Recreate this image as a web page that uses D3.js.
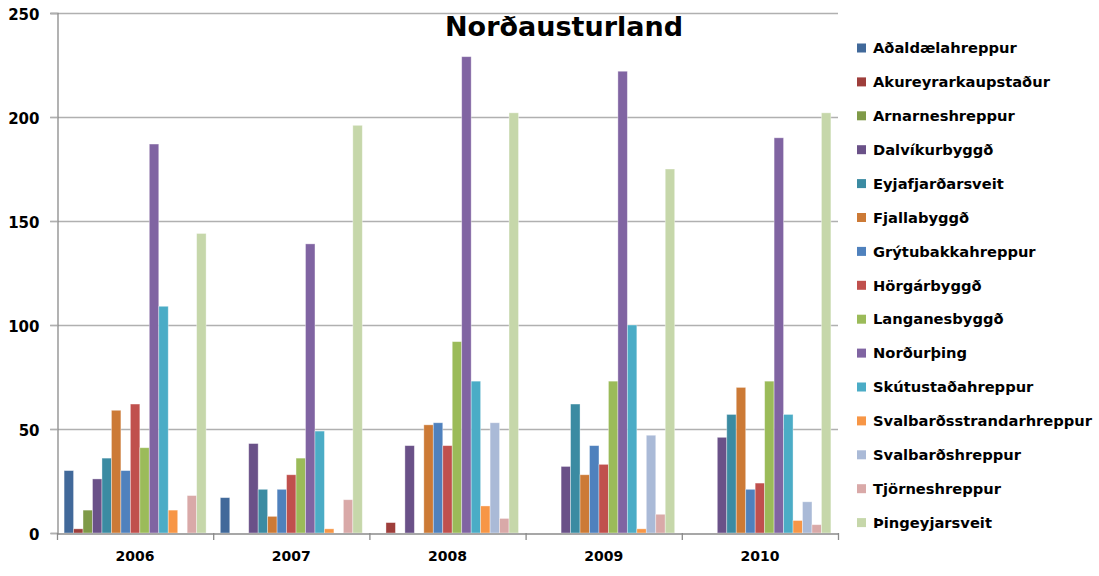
<!DOCTYPE html>
<html>
<head>
<meta charset="utf-8">
<script src="https://cdn.jsdelivr.net/npm/d3@7"></script>
<style>
  body { margin: 0; background: #fff; }
  svg { display: block; }
</style>
</head>
<body>
<svg id="chart" width="1099" height="576"></svg>
<script>
// data
var years = ["2006", "2007", "2008", "2009", "2010"];
var series = [
  "Aðaldælahreppur", "Akureyrarkaupstaður", "Arnarneshreppur", "Dalvíkurbyggð",
  "Eyjafjarðarsveit", "Fjallabyggð", "Grýtubakkahreppur", "Hörgárbyggð",
  "Langanesbyggð", "Norðurþing", "Skútustaðahreppur", "Svalbarðsstrandarhreppur",
  "Svalbarðshreppur", "Tjörneshreppur", "Þingeyjarsveit"
];
// one array per year, same order as series
var v2006 = [30, 2, 11, 26, 36, 59, 30, 62, 41, 187, 109, 11, 0, 18, 144];
var v2007 = [17, 0, 0, 43, 21, 8, 21, 28, 36, 139, 49, 2, 0, 16, 196];
var v2008 = [0, 5, 0, 42, 0, 52, 53, 42, 92, 229, 73, 13, 53, 7, 202];
var v2009 = [0, 0, 0, 32, 62, 28, 42, 33, 73, 222, 100, 2, 47, 9, 175];
var v2010 = [0, 0, 0, 46, 57, 70, 21, 24, 73, 190, 57, 6, 15, 4, 202];
var yTicks = [0, 50, 100, 150, 200, 250];

var colors = [
  "#41699A", "#9E3E3B", "#7F9A48", "#6A5188", "#3B8BA2",
  "#CC7A36", "#4F81BD", "#C0504D", "#9BBB59", "#8064A2",
  "#4BACC6", "#F79646", "#AABAD7", "#D9A9A8", "#C6D7AA"
];

var values = [v2006, v2007, v2008, v2009, v2010];
var data = years.map(function(y, i) {
  return { year: y, vals: series.map(function(s, j) { return { key: s, value: values[i][j] }; }) };
});

var svg = d3.select("#chart");
var margin = { top: 13, left: 57, bottom: 43, right: 261 };
var width = +svg.attr("width"),
  height = +svg.attr("height");

var x0 = d3.scaleBand().domain(years).range([margin.left, width - margin.right]).padding(0);
var x1 = d3.scaleBand().domain(series).range([0, x0.bandwidth()]).paddingInner(0).paddingOuter(0.75);
var y = d3.scaleLinear().domain([0, 250]).range([height - margin.bottom, margin.top]);
var color = d3.scaleOrdinal().domain(series).range(colors);

var gridColor = "#b0b0b0";
var axisColor = "#8a8a8a";

// gridlines
svg.append("g")
  .selectAll("line")
  .data(yTicks.slice(1))
  .enter()
  .append("line")
  .attr("x1", margin.left - 7)
  .attr("x2", width - margin.right)
  .attr("y1", d => y(d) + 0.5)
  .attr("y2", d => y(d) + 0.5)
  .attr("stroke", gridColor)
  .attr("stroke-width", 1.3);

// y axis
var yAxis = svg.append("g")
  .attr("transform", `translate(${margin.left + 0.5},0)`)
  .call(d3.axisLeft(y).tickValues(yTicks).tickSize(7).tickPadding(11));
yAxis.select(".domain").attr("stroke", axisColor).attr("stroke-width", 1.3);
yAxis.selectAll(".tick line").attr("stroke", gridColor).attr("stroke-width", 1.3);
yAxis.selectAll("text")
  .attr("fill", "#000")
  .attr("dy", "0.4em")
  .style("font", "bold 15px 'DejaVu Sans'");

// bars
var groups = svg.append("g")
  .selectAll("g")
  .data(data)
  .enter()
  .append("g")
  .attr("transform", d => `translate(${x0(d.year)},0)`);

groups.selectAll("rect")
  .data(d => d.vals.filter(v => v.value > 0))
  .enter()
  .append("rect")
  .attr("x", d => x1(d.key))
  .attr("y", d => y(d.value))
  .attr("width", x1.bandwidth())
  .attr("height", d => y(0) - y(d.value))
  .attr("fill", d => color(d.key))
  .attr("stroke", "#fff")
  .attr("stroke-opacity", 0.45)
  .attr("stroke-width", 0.8);

// x axis
var xAxis = svg.append("g")
  .attr("transform", `translate(0,${y(0) + 0.5})`)
  .call(d3.axisBottom(x0).tickSize(0).tickPadding(18));
xAxis.select(".domain").attr("stroke", axisColor).attr("stroke-width", 1.3);
xAxis.selectAll("text")
  .attr("fill", "#000")
  .style("font", "bold 14px 'DejaVu Sans'");

// category separators below the axis
svg.append("g")
  .selectAll("line")
  .data(years.concat(["end"]))
  .enter()
  .append("line")
  .attr("x1", (d, i) => margin.left + i * x0.bandwidth() + 0.5)
  .attr("x2", (d, i) => margin.left + i * x0.bandwidth() + 0.5)
  .attr("y1", y(0))
  .attr("y2", y(0) + 7)
  .attr("stroke", axisColor)
  .attr("stroke-width", 1.3);

// title
svg.append("text")
  .attr("x", 564)
  .attr("y", 36)
  .attr("text-anchor", "middle")
  .style("font", "bold 27px 'DejaVu Sans'")
  .text("Norðausturland");

// legend
var legend = svg.append("g")
  .selectAll("g")
  .data(series)
  .enter()
  .append("g")
  .attr("transform", (d, i) => `translate(857,${48 + i * 33.9})`);

legend.append("rect")
  .attr("x", 0)
  .attr("y", -4.5)
  .attr("width", 9)
  .attr("height", 9)
  .attr("fill", d => color(d));

legend.append("text")
  .attr("x", 16)
  .attr("y", 0)
  .attr("dy", "0.36em")
  .style("font", "bold 14.7px 'DejaVu Sans'")
  .text(d => d);
</script>
</body>
</html>
